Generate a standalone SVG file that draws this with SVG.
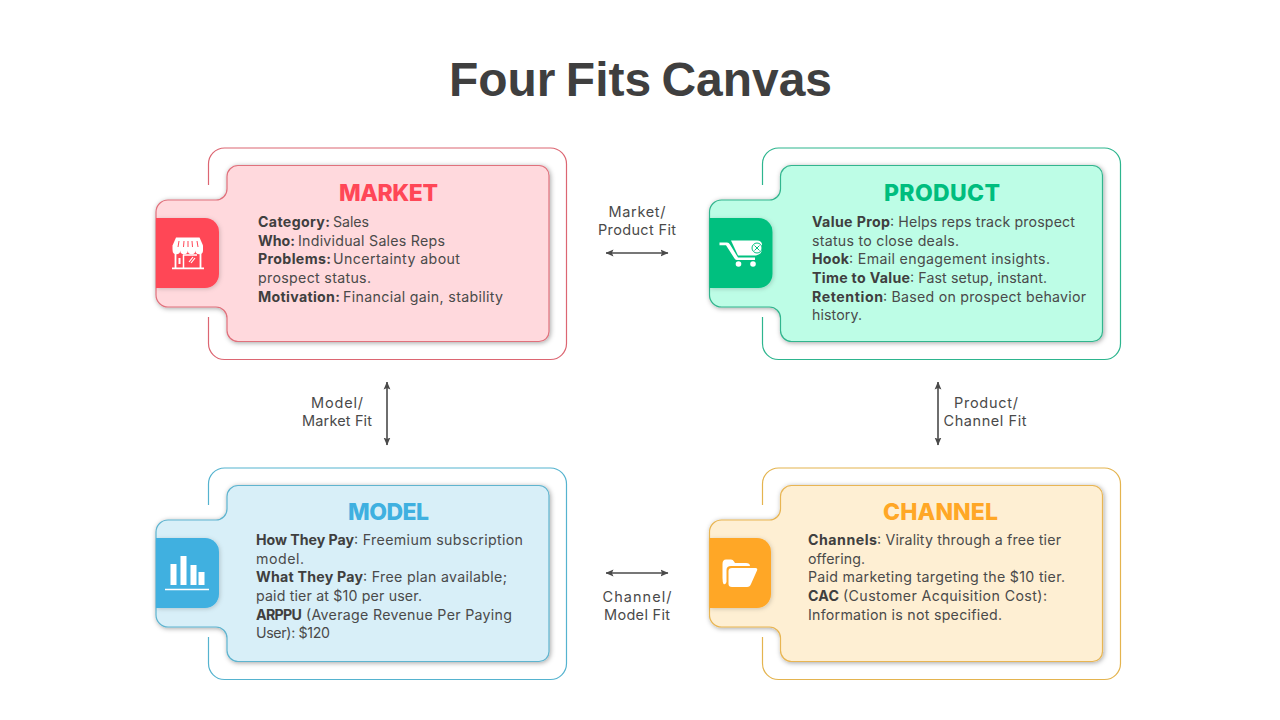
<svg xmlns="http://www.w3.org/2000/svg" width="1280" height="720" viewBox="0 0 1280 720">
<style>
text{font-family:"Inter","Noto Sans","Liberation Sans",sans-serif;fill:#4a4a4a}
.title{font-family:"Liberation Sans",Arial,sans-serif;font-weight:700;font-size:48px;fill:#3f3f3f;word-spacing:-3px}
.head{font-size:23px;font-weight:800;text-anchor:middle}
.b{font-size:14.2px;font-weight:700;fill:#3f3f3f}
.r{font-size:14.2px;font-weight:400}
.lab{font-size:14.5px;font-weight:400;text-anchor:middle;fill:#4a4a4a}
.frame{fill:none;stroke-width:1.2}
.tab{stroke-width:1.2;filter:url(#sh)}
.ic{fill:#fff}
.ln{fill:none;stroke:#fff}
.conn{stroke:#4a4a4a;stroke-width:1.6;fill:none;marker-start:url(#ah);marker-end:url(#ah)}
</style>
<defs>
<filter id="sh" x="-10%" y="-10%" width="120%" height="120%"><feDropShadow dx="1" dy="1" stdDeviation="2.800" flood-color="#000" flood-opacity=".36"/></filter>
<filter id="sh2" x="-20%" y="-20%" width="140%" height="140%"><feDropShadow dx="1" dy="1" stdDeviation="2" flood-color="#000" flood-opacity=".18"/></filter>
<marker id="ah" viewBox="0 0 8 8" refX="7.500" refY="4" markerWidth="8" markerHeight="8" markerUnits="userSpaceOnUse" orient="auto-start-reverse"><path d="M0 .6L8 4L0 7.400L1.600 4Z" fill="#4a4a4a"/></marker>
<path id="fr" d="M208.500 185V164a16 16 0 0 1 16-16H550.500a16 16 0 0 1 16 16V343.500a16 16 0 0 1-16 16H224.500a16 16 0 0 1-16-16V317"/>
<path id="sp" d="M238 165.500H539a10 10 0 0 1 10 10V331.500a10 10 0 0 1-10 10H238a11 11 0 0 1-11-11V318a11 11 0 0 0-11-11H168a12 12 0 0 1-12-12V212a12 12 0 0 1 12-12H216a11 11 0 0 0 11-11V176.500a11 11 0 0 1 11-11Z"/>
<path id="sq" d="M156 218H205a14 14 0 0 1 14 14V274a14 14 0 0 1-14 14H156Z"/>
</defs>
<rect width="1280" height="720" fill="#fff"/>
<text class="title" x="640.500" y="96" text-anchor="middle" textLength="383" lengthAdjust="spacingAndGlyphs">Four Fits Canvas</text>

<g id="connectors">
<line class="conn" x1="606" y1="253" x2="668" y2="253"/>
<line class="conn" x1="606" y1="573" x2="668" y2="573"/>
<line class="conn" x1="387" y1="382" x2="387" y2="445"/>
<line class="conn" x1="938" y1="382" x2="938" y2="445"/>
</g>
<g id="connector-labels">
<text class="lab" x="637" y="217" textLength="57">Market/</text>
<text class="lab" x="637" y="235" textLength="78">Product Fit</text>
<text class="lab" x="337" y="408" textLength="52">Model/</text>
<text class="lab" x="337" y="426" textLength="70">Market Fit</text>
<text class="lab" x="986" y="408" textLength="64">Product/</text>
<text class="lab" x="985" y="426" textLength="83">Channel Fit</text>
<text class="lab" x="637" y="602" textLength="69">Channel/</text>
<text class="lab" x="637" y="620" textLength="66">Model Fit</text>
</g>

<g id="market">
<use href="#fr" class="frame" stroke="#dc6672"/>
<use href="#sp" class="tab" fill="#ffd9dd" stroke="#e0717c"/>
<use href="#sq" fill="#ff4757" filter="url(#sh2)"/>
<text class="head" x="388.500" y="201" style="fill:#ff4757" textLength="99">MARKET</text>
<text y="227"><tspan class="b" x="258" textLength="72">Category:</tspan><tspan class="r" x="333" textLength="36">Sales</tspan></text>
<text y="246"><tspan class="b" x="258" textLength="37">Who:</tspan><tspan class="r" x="298" textLength="147">Individual Sales Reps</tspan></text>
<text y="264"><tspan class="b" x="258" textLength="73">Problems:</tspan><tspan class="r" x="333" textLength="127">Uncertainty about</tspan></text>
<text y="283"><tspan class="r" x="258" textLength="113">prospect status.</tspan></text>
<text y="302"><tspan class="b" x="258" textLength="82">Motivation:</tspan><tspan class="r" x="343" textLength="160">Financial gain, stability</tspan></text>
<g id="market-icon">
<path class="ic" d="M176 237.500H199.500L203 245.500V249H172.500V245.500Z"/>
<path d="M179 241L178 247M184 241L183.500 247M188 241V247M192 241L192.500 247M197 241L198 247" stroke="#ff4757" stroke-width="1" fill="none"/>
<path class="ic" d="M172.500 249H203V250.500a3.800 3.800 0 0 1-7.600 0a3.800 3.800 0 0 1-7.600 0a3.800 3.800 0 0 1-7.600 0a3.800 3.800 0 0 1-7.600 0Z"/>
<path class="ln" stroke-width="1.800" d="M175.500 253V268M200.500 253V268M172 268.300H204"/>
<path class="ln" stroke-width="1.500" d="M183.500 254.500V268M183 255H197"/>
<path class="ic" d="M178.500 258h2v6h-2z"/>
<path d="M189 262L193 257M191 263L195 258" stroke="#fff" stroke-width="1.200" fill="none"/>
</g>
</g>

<g id="product" transform="translate(554 0)">
<use href="#fr" class="frame" stroke="#2db58e"/>
<g transform="translate(-1 0)">
<use href="#sp" x="0.500" class="tab" fill="#bdfde6" stroke="#33b58e"/>
<use href="#sq" x="0.500" fill="#00c07f" filter="url(#sh2)"/>
<path class="ic" d="M166.500 242.500H174Q176 242.500 177 244.500L185 257.500H202V260H184Q182.500 260 181.500 258.500L173 245.200H166.500Z"/>
<path class="ic" d="M178 240.500H204Q209 240.500 209 245V249Q209 254 203 255.500H185Z"/>
<circle class="ic" cx="185.500" cy="264" r="2.800"/><circle class="ic" cx="200" cy="264" r="2.800"/>
<circle cx="204" cy="248" r="5" fill="#fff" stroke="#00c07f" stroke-width="1"/>
<path d="M201.500 245.500L206.500 250.500M206.500 245.500L201.500 250.500" stroke="#00c07f" stroke-width="1"/>
</g>
</g>
<g id="product-text">
<text class="head" x="942" y="201" style="fill:#00bd7e" textLength="116">PRODUCT</text>
<text y="227"><tspan class="b" x="812" textLength="78">Value Prop</tspan><tspan class="r" x="890" textLength="185">: Helps reps track prospect</tspan></text>
<text y="246"><tspan class="r" x="812" textLength="147">status to close deals.</tspan></text>
<text y="264"><tspan class="b" x="812" textLength="37">Hook</tspan><tspan class="r" x="849" textLength="201">: Email engagement insights.</tspan></text>
<text y="283"><tspan class="b" x="812" textLength="98">Time to Value</tspan><tspan class="r" x="910" textLength="137">: Fast setup, instant.</tspan></text>
<text y="302"><tspan class="b" x="812" textLength="71">Retention</tspan><tspan class="r" x="883" textLength="203">: Based on prospect behavior</tspan></text>
<text y="320"><tspan class="r" x="812" textLength="50">history.</tspan></text>
</g>

<g id="model" transform="translate(0 320)">
<use href="#fr" class="frame" stroke="#55b3cf"/>
<use href="#sp" class="tab" fill="#d8eff8" stroke="#5fb4cf"/>
<use href="#sq" fill="#3fb0e0" filter="url(#sh2)"/>
<path class="ic" d="M170.500 244h6v21h-6zM180.500 236h6v29h-6zM190.500 245h6v20h-6zM198.500 252h6v13h-6z"/>
<path class="ln" stroke-width="1.500" d="M165 269.500H209"/>
</g>
<g id="model-text">
<text class="head" x="388.500" y="520" style="fill:#3fb0e0" textLength="81">MODEL</text>
<text y="545"><tspan class="b" x="256" textLength="98">How They Pay</tspan><tspan class="r" x="354" textLength="169">: Freemium subscription</tspan></text>
<text y="564"><tspan class="r" x="256" textLength="48">model.</tspan></text>
<text y="582"><tspan class="b" x="256" textLength="107">What They Pay</tspan><tspan class="r" x="363" textLength="144">: Free plan available;</tspan></text>
<text y="601"><tspan class="r" x="256" textLength="166">paid tier at $10 per user.</tspan></text>
<text y="620"><tspan class="b" x="256" textLength="46">ARPPU</tspan><tspan class="r" x="306" textLength="206">(Average Revenue Per Paying</tspan></text>
<text y="638"><tspan class="r" x="256" textLength="74">User): $120</tspan></text>
</g>

<g id="channel" transform="translate(554 320)">
<use href="#fr" class="frame" stroke="#e4b44f"/>
<g transform="translate(-1 0)">
<use href="#sp" x="0.500" class="tab" fill="#feefd3" stroke="#e8b553"/>
<path d="M156.500 218H204a14 14 0 0 1 14 14V274a14 14 0 0 1-14 14H156.500Z" fill="#ffa726" filter="url(#sh2)"/>
<path class="ic" d="M170.500 264Q169.500 262 169.500 258V244Q169.500 239.500 173 239.500H178Q180 239.500 181 241.500L182 243H193Q197 243 197 246H178Q173.500 246 173.500 250V262Q172.500 265 170.500 264Z"/>
<path class="ic" d="M175.500 251Q175.500 248 179 248H202.500Q205 248 204 250.500L198 264Q197 267 194 267H179Q175.500 267 175.500 264Z"/>
</g>
</g>
<g id="channel-text">
<text class="head" x="940.500" y="520" style="fill:#ffa726" textLength="115">CHANNEL</text>
<text y="545"><tspan class="b" x="808" textLength="69">Channels</tspan><tspan class="r" x="877" textLength="184">: Virality through a free tier</tspan></text>
<text y="564"><tspan class="r" x="808" textLength="57">offering.</tspan></text>
<text y="582"><tspan class="r" x="808" textLength="257">Paid marketing targeting the $10 tier.</tspan></text>
<text y="601"><tspan class="b" x="808" textLength="31">CAC</tspan><tspan class="r" x="843" textLength="204">(Customer Acquisition Cost):</tspan></text>
<text y="620"><tspan class="r" x="808" textLength="194">Information is not specified.</tspan></text>
</g>
</svg>
